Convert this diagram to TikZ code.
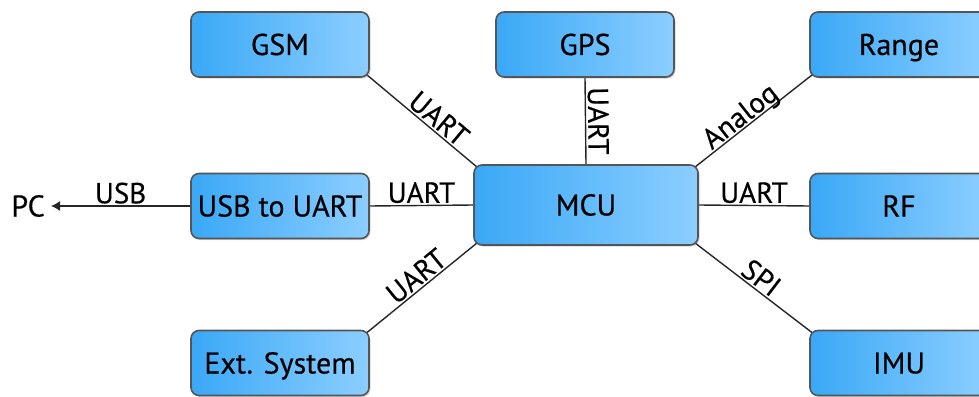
\documentclass[tikz,border=0pt]{standalone}
\usepackage{fontspec}
\setmainfont{PT Sans}[FakeBold=0.4]
\usetikzlibrary{arrows.meta,shadows,backgrounds}
\definecolor{boxL}{RGB}{58,168,246}
\definecolor{boxR}{RGB}{140,206,255}
\definecolor{boxB}{RGB}{85,85,85}
\begin{document}
\begin{tikzpicture}[x=1pt,y=-1pt,
  blk/.style={draw=boxB,line width=1.6pt,rounded corners=8pt,
    left color=boxL,right color=boxR,
    minimum width=178pt,minimum height=65pt,inner sep=0pt,
    font=\fontsize{30}{34}\selectfont,text height=21pt,text depth=0pt,
    drop shadow={shadow xshift=1.5pt,shadow yshift=-1.5pt,opacity=0.35}},
  conn/.style={draw=black!85,line width=1.4pt},
  lbl/.style={font=\fontsize{29}{33}\selectfont,inner sep=2pt,text height=20pt,text depth=0pt}]
\useasboundingbox (0,0) rectangle (979,396);
\node[blk] (gsm) at (280,44.5) {GSM};
\node[blk] (gps) at (585,44.5) {GPS};
\node[blk] (range) at (899,44.5) {Range};
\node[blk] (usb) at (280,206) {USB to UART};
\node[blk,minimum width=224pt,minimum height=80pt] (mcu) at (586,205) {MCU};
\node[blk] (rf) at (899,206) {RF};
\node[blk] (ext) at (280,363) {Ext. System};
\node[blk] (imu) at (899,363) {IMU};
\node[font=\fontsize{30}{34}\selectfont,text height=21pt,text depth=0pt,anchor=east,inner sep=0pt] (pc) at (45,206) {PC};
\begin{pgfonlayer}{background}
\draw[conn] ([shift={(-3,-3)}]gsm.south east) -- node[lbl,pos=0.58,sloped,above] {UART} ([shift={(4,3)}]mcu.north west);
\draw[conn] (gps.south) -- node[lbl,pos=0.5,sloped,above] {UART} (mcu.north);
\draw[conn] ([shift={(-4,3)}]mcu.north east) -- node[lbl,pos=0.45,sloped,above] {Analog} ([shift={(3,-3)}]range.south west);
\draw[conn] (usb.east) -- node[lbl,above] {UART} (mcu.west);
\draw[conn] (mcu.east) -- node[lbl,above] {UART} (rf.west);
\draw[conn] ([shift={(-3,3)}]ext.north east) -- node[lbl,pos=0.52,sloped,above] {UART} ([shift={(4,-3)}]mcu.south west);
\draw[conn] ([shift={(-4,-3)}]mcu.south east) -- node[lbl,pos=0.5,sloped,above] {SPI} ([shift={(3,3)}]imu.north west);
\draw[conn,-{Latex[length=9pt,width=10pt]}] (usb.west) -- node[lbl,above] {USB} ([xshift=6pt]pc.east);
\end{pgfonlayer}
\end{tikzpicture}
\end{document}
